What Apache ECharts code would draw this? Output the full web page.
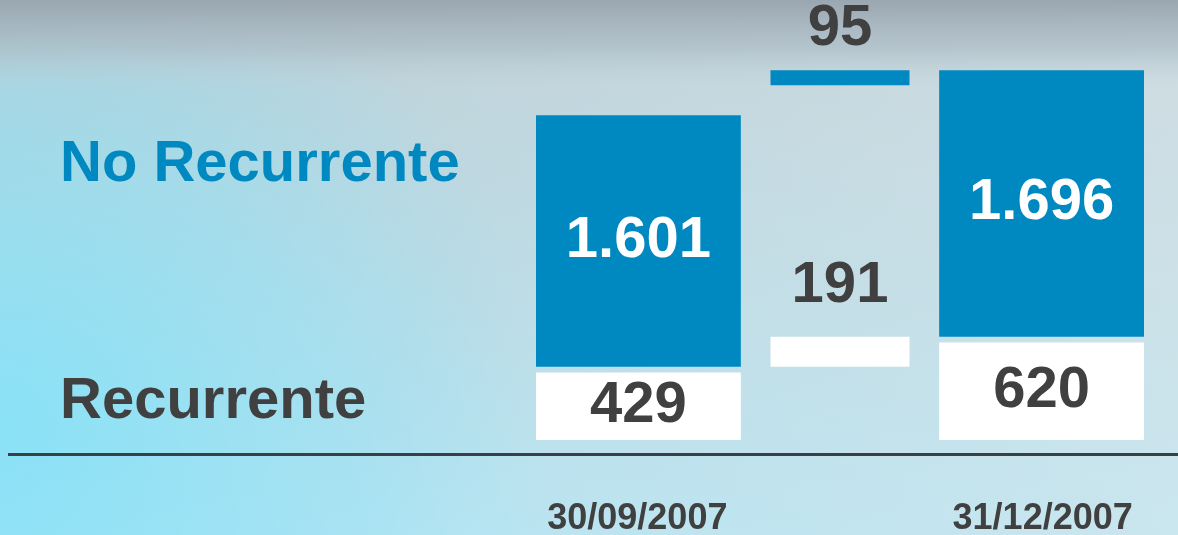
<!DOCTYPE html>
<html>
<head>
<meta charset="utf-8">
<script src="https://cdn.jsdelivr.net/npm/echarts@6/dist/echarts.min.js"></script>
<style>
    html, body { margin: 0; padding: 0; }
    #chart { width: 1178px; height: 535px; }
</style>
</head>
<body>
<div id="chart"></div>
<script>
// datos (millones)
const fechas = ['30/09/2007', '', '31/12/2007'];
const recurrente = [429, '-', 620];
const noRecurrente = [1601, '-', 1696];
const varRecurrente = ['-', 191, '-'];
const varNoRecurrente = ['-', 95, '-'];

const GAP = 38; // hueco entre bloques, en unidades del eje
const FONT = '"Liberation Sans", Arial, sans-serif';
const GRIS = '#404040';
const AZUL = '#0088c0';

function fmt(v) {
    return String(v).replace(/\B(?=(\d{3})+(?!\d))/g, '.');
}

// bases invisibles del puente
const baseRec = ['-', recurrente[0] + GAP, '-'];
const topeFinal = recurrente[2] + GAP + noRecurrente[2];
const baseNoRec = ['-', topeFinal - varNoRecurrente[1] - baseRec[1] - varRecurrente[1], '-'];
const hueco = [GAP, '-', GAP];

const chart = echarts.init(document.getElementById('chart'));

const numLabel = (color) => ({
    show: true,
    position: 'inside',
    color: color,
    fontFamily: FONT,
    fontWeight: 'bold',
    fontSize: 58,
    formatter: p => fmt(p.value)
});

const option = {
    backgroundColor: new echarts.graphic.LinearGradient(0, 0, 0, 1, [
        { offset: 0, color: '#b9ccd3' },
        { offset: 1, color: '#ade3f3' }
    ]),
    animation: false,
    grid: { left: 536, right: 34, top: 63, bottom: 95, containLabel: false, outerBoundsMode: 'none' },
    xAxis: [{
        type: 'category',
        data: fechas,
        axisLine: { show: false },
        axisTick: { show: false },
        axisLabel: {
            interval: 0,
            margin: 61,
            color: GRIS,
            fontFamily: FONT,
            fontWeight: 'bold',
            fontSize: 36
        }
    }, {
        type: 'category',
        data: fechas,
        show: false
    }],
    yAxis: { type: 'value', min: 0, max: 2400, show: false },
    graphic: [
        {
            type: 'rect', z: 0, silent: true,
            shape: { x: 0, y: 0, width: 1178, height: 535 },
            style: {
                fill: new echarts.graphic.LinearGradient(0, 0, 1, 0, [
                    { offset: 0, color: 'rgba(225,232,235,0)' },
                    { offset: 1, color: 'rgba(225,232,235,0.55)' }
                ])
            }
        },
        {
            type: 'rect', z: 0, silent: true,
            shape: { x: 0, y: 0, width: 1178, height: 535 },
            style: {
                fill: {
                    type: 'radial', x: 0, y: 0.8, r: 1.0, global: false,
                    colorStops: [
                        { offset: 0, color: 'rgba(137,226,247,0.95)' },
                        { offset: 1, color: 'rgba(137,226,247,0)' }
                    ]
                }
            }
        },
        {
            type: 'rect', z: 0, silent: true,
            shape: { x: 0, y: 0, width: 1178, height: 88 },
            style: {
                fill: new echarts.graphic.LinearGradient(0, 0, 0, 1, [
                    { offset: 0, color: 'rgba(154,166,176,1)' },
                    { offset: 0.55, color: 'rgba(172,188,197,0.7)' },
                    { offset: 1, color: 'rgba(190,208,216,0)' }
                ])
            }
        },
        {
            type: 'line',
            shape: { x1: 8, y1: 454.5, x2: 1178, y2: 454.5 },
            style: { stroke: '#384046', lineWidth: 3 }
        },
        {
            type: 'text', x: 60, y: 165,
            style: { text: 'No Recurrente', font: 'bold 58px ' + FONT, fill: AZUL, verticalAlign: 'middle' }
        },
        {
            type: 'text', x: 60, y: 402,
            style: { text: 'Recurrente', font: 'bold 58px ' + FONT, fill: GRIS, verticalAlign: 'middle' }
        }
    ],
    series: [
        {
            name: 'Recurrente', type: 'bar', stack: 'a', barWidth: 207,
            data: recurrente,
            itemStyle: { color: '#ffffff' },
            label: numLabel(GRIS)
        },
        {
            type: 'bar', stack: 'a', barWidth: 207, silent: true,
            data: hueco,
            itemStyle: { color: 'transparent' }
        },
        {
            name: 'No Recurrente', type: 'bar', stack: 'a', barWidth: 207,
            data: noRecurrente,
            itemStyle: { color: AZUL },
            label: numLabel('#ffffff')
        },
        {
            type: 'bar', stack: 'b', xAxisIndex: 1, barWidth: 139, silent: true,
            data: baseRec,
            itemStyle: { color: 'transparent' }
        },
        {
            type: 'bar', stack: 'b', xAxisIndex: 1, barWidth: 139,
            data: varRecurrente,
            itemStyle: { color: '#ffffff' },
            label: Object.assign(numLabel(GRIS), { position: 'top', distance: 22 })
        },
        {
            type: 'bar', stack: 'b', xAxisIndex: 1, barWidth: 139, silent: true,
            data: baseNoRec,
            itemStyle: { color: 'transparent' }
        },
        {
            type: 'bar', stack: 'b', xAxisIndex: 1, barWidth: 139,
            data: varNoRecurrente,
            itemStyle: { color: AZUL },
            label: Object.assign(numLabel(GRIS), { position: 'top', distance: 12 })
        }
    ]
};
chart.setOption(option);

window.addEventListener('resize', function() {
    chart.resize();
});
</script>
</body>
</html>
